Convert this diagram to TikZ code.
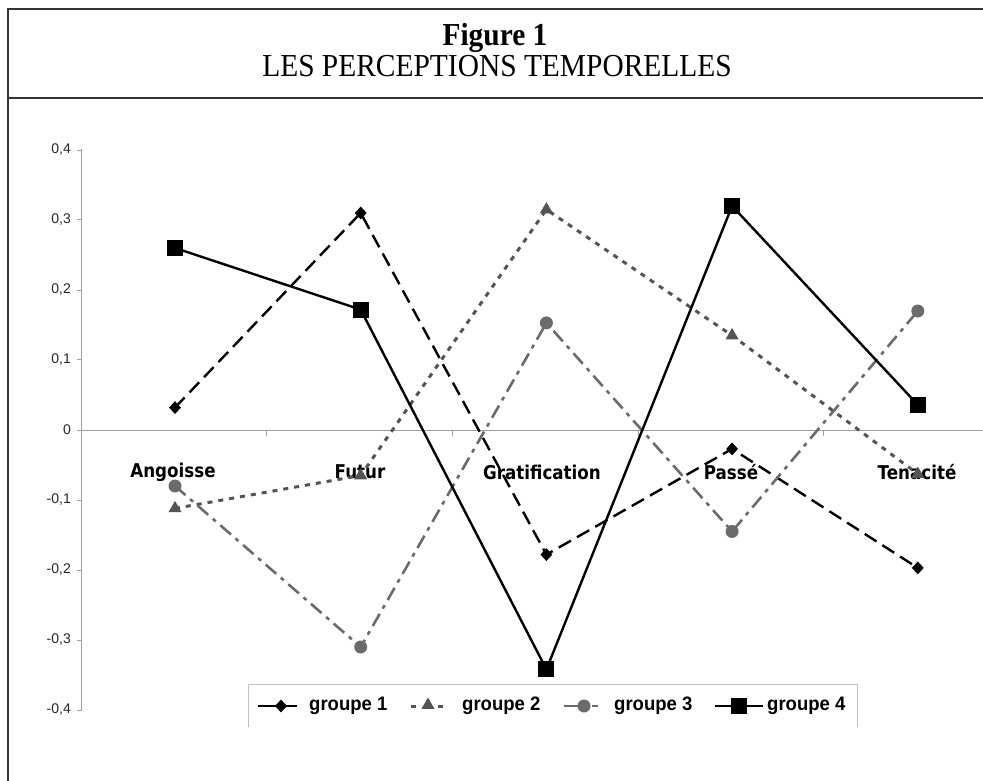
\documentclass[tikz,border=0pt]{standalone}
\usepackage{fontspec}
\setmainfont{Liberation Serif}
\newfontfamily\titlefont[FakeStretch=0.92]{Liberation Serif}
\newfontfamily\arialfont{Liberation Sans}
\newfontfamily\legfont[FakeStretch=0.95]{Liberation Sans}
\newfontfamily\catfont[FakeStretch=0.88]{DejaVu Sans}
\usetikzlibrary{shapes.geometric}
\definecolor{gtwo}{gray}{0.33}
\definecolor{gthree}{gray}{0.42}
\definecolor{axisgray}{gray}{0.62}
\begin{document}
\begin{tikzpicture}[x=1pt,y=-1pt,
  frameline/.style={draw=black!80, line width=2pt},
  axisline/.style={draw=axisgray, line width=1pt},
  ticklabel/.style={anchor=east, inner sep=0pt, text=black!85, font=\arialfont\fontsize{14}{16}\selectfont},
  catlabel/.style={inner sep=0pt, font=\catfont\bfseries\fontsize{19}{22}\selectfont},
  legtext/.style={anchor=west, inner sep=0pt, font=\legfont\bfseries\fontsize{19.5}{22}\selectfont},
  gone/.style={draw=black, line width=2.4pt, dash pattern=on 14pt off 7pt},
  gtwoline/.style={draw=gtwo, line width=3pt, dash pattern=on 5pt off 6pt},
  gthreeline/.style={draw=gthree, line width=2.6pt, dash pattern=on 14pt off 6pt on 4pt off 6pt},
  gfour/.style={draw=black, line width=2.4pt},
  mone/.style={diamond, fill=black, inner sep=0pt, minimum width=12pt, minimum height=13pt},
  mtwo/.style={regular polygon, regular polygon sides=3, fill=gtwo, inner sep=0pt, minimum size=15pt},
  mthree/.style={circle, fill=gthree, inner sep=0pt, minimum size=13pt},
  mfour/.style={rectangle, fill=black, inner sep=0pt, minimum size=16pt}
]
\useasboundingbox (0,0) rectangle (983,781);
% frame
\draw[frameline] (8,781) -- (8,9) -- (983,9);
\draw[frameline] (8,98) -- (983,98);
\node[font=\titlefont\bfseries\fontsize{32}{34}\selectfont] (fig) at (495,38) {Figure 1};
\node[font=\titlefont\fontsize{32}{34}\selectfont] (subt) at (497,66) {LES PERCEPTIONS TEMPORELLES};
% axes
\draw[axisline] (81,149) -- (81,711);
\foreach \v/\lab in {0.4/{0,4},0.3/{0,3},0.2/{0,2},0.1/{0,1},0/0,-0.1/{-0,1},-0.2/{-0,2},-0.3/{-0,3},-0.4/{-0,4}}{
  \draw[axisline] (77,{430-700*\v}) -- (81,{430-700*\v});
  \node[ticklabel] at (71,{430-700*\v}) {\lab};
}
\draw[axisline] (81,430) -- (983,430);
\foreach \i in {1,2,3,4}{
  \draw[axisline] ({81+185.7*\i},430) -- ({81+185.7*\i},436);
}
% category labels
\node[catlabel] (cA) at (173,472) {Angoisse};
\node[catlabel] (cF) at (360,472) {Futur};
\node[catlabel] (cG) at (542,472) {Gratification};
\node[catlabel] (cP) at (731,472) {Passé};
\node[catlabel] (cT) at (917,472) {Tenacité};
% data coordinates
\coordinate (a1) at (175,407.6);   \coordinate (b1) at (360.7,213);
\coordinate (c1) at (546.4,554.6); \coordinate (d1) at (732.1,448.9);
\coordinate (e1) at (917.8,567.9);
\coordinate (a2) at (175,508.4);   \coordinate (b2) at (360.7,475.5);
\coordinate (c2) at (546.4,209.5); \coordinate (d2) at (732.1,335.5);
\coordinate (e2) at (917.8,474);
\coordinate (a3) at (175,486);     \coordinate (b3) at (360.7,647);
\coordinate (c3) at (546.4,322.9); \coordinate (d3) at (732.1,531.5);
\coordinate (e3) at (917.8,311);
\coordinate (a4) at (175,248);     \coordinate (b4) at (360.7,309.6);
\coordinate (c4) at (546.4,669.4); \coordinate (d4) at (732.1,206);
\coordinate (e4) at (917.8,404.8);
% series 1
\draw[gone] (a1) -- (b1) -- (c1) -- (d1) -- (e1);
\foreach \p in {a1,b1,c1,d1,e1}{ \node[mone] at (\p) {}; }
% series 2
\draw[gtwoline] (a2) -- (b2) -- (c2) -- (d2) -- (e2);
\foreach \p in {a2,b2,c2,d2,e2}{ \node[mtwo] at (\p) {}; }
% series 3
\draw[gthreeline] (a3) -- (b3) -- (c3) -- (d3) -- (e3);
\foreach \p in {a3,b3,c3,d3,e3}{ \node[mthree] at (\p) {}; }
% series 4
\draw[gfour] (a4) -- (b4) -- (c4) -- (d4) -- (e4);
\foreach \p in {a4,b4,c4,d4,e4}{ \node[mfour] at (\p) {}; }
% legend
\draw[draw=black!25, line width=1pt] (248,727) -- (248,684) -- (857,684) -- (857,727);
\coordinate (l1a) at (258,706); \coordinate (l1b) at (276,706);
\coordinate (l1c) at (286,706); \coordinate (l1d) at (297,706);
\draw[black, line width=2.4pt] (l1a) -- (l1b);
\draw[black, line width=2.4pt] (l1c) -- (l1d);
\node[mone] (k1) at (281,706) {};
\node[legtext] (t1) at (309,706) {groupe 1};
\coordinate (l2a) at (411,706); \coordinate (l2b) at (416,706);
\coordinate (l2c) at (438,706); \coordinate (l2d) at (443,706);
\draw[gtwo, line width=3pt] (l2a) -- (l2b);
\draw[gtwo, line width=3pt] (l2c) -- (l2d);
\node[mtwo] (k2) at (428,705) {};
\node[legtext] (t2) at (462,706) {groupe 2};
\coordinate (l3a) at (564,706); \coordinate (l3b) at (580,706);
\coordinate (l3c) at (592,706); \coordinate (l3d) at (598,706);
\draw[gthree, line width=2.6pt] (l3a) -- (l3b);
\draw[gthree, line width=2.6pt] (l3c) -- (l3d);
\node[mthree] (k3) at (584,706) {};
\node[legtext] (t3) at (614,706) {groupe 3};
\coordinate (l4a) at (715,706); \coordinate (l4b) at (763,706);
\draw[black, line width=2.4pt] (l4a) -- (l4b);
\node[mfour] (k4) at (739,706) {};
\node[legtext] (t4) at (767,706) {groupe 4};
\end{tikzpicture}
\end{document}
